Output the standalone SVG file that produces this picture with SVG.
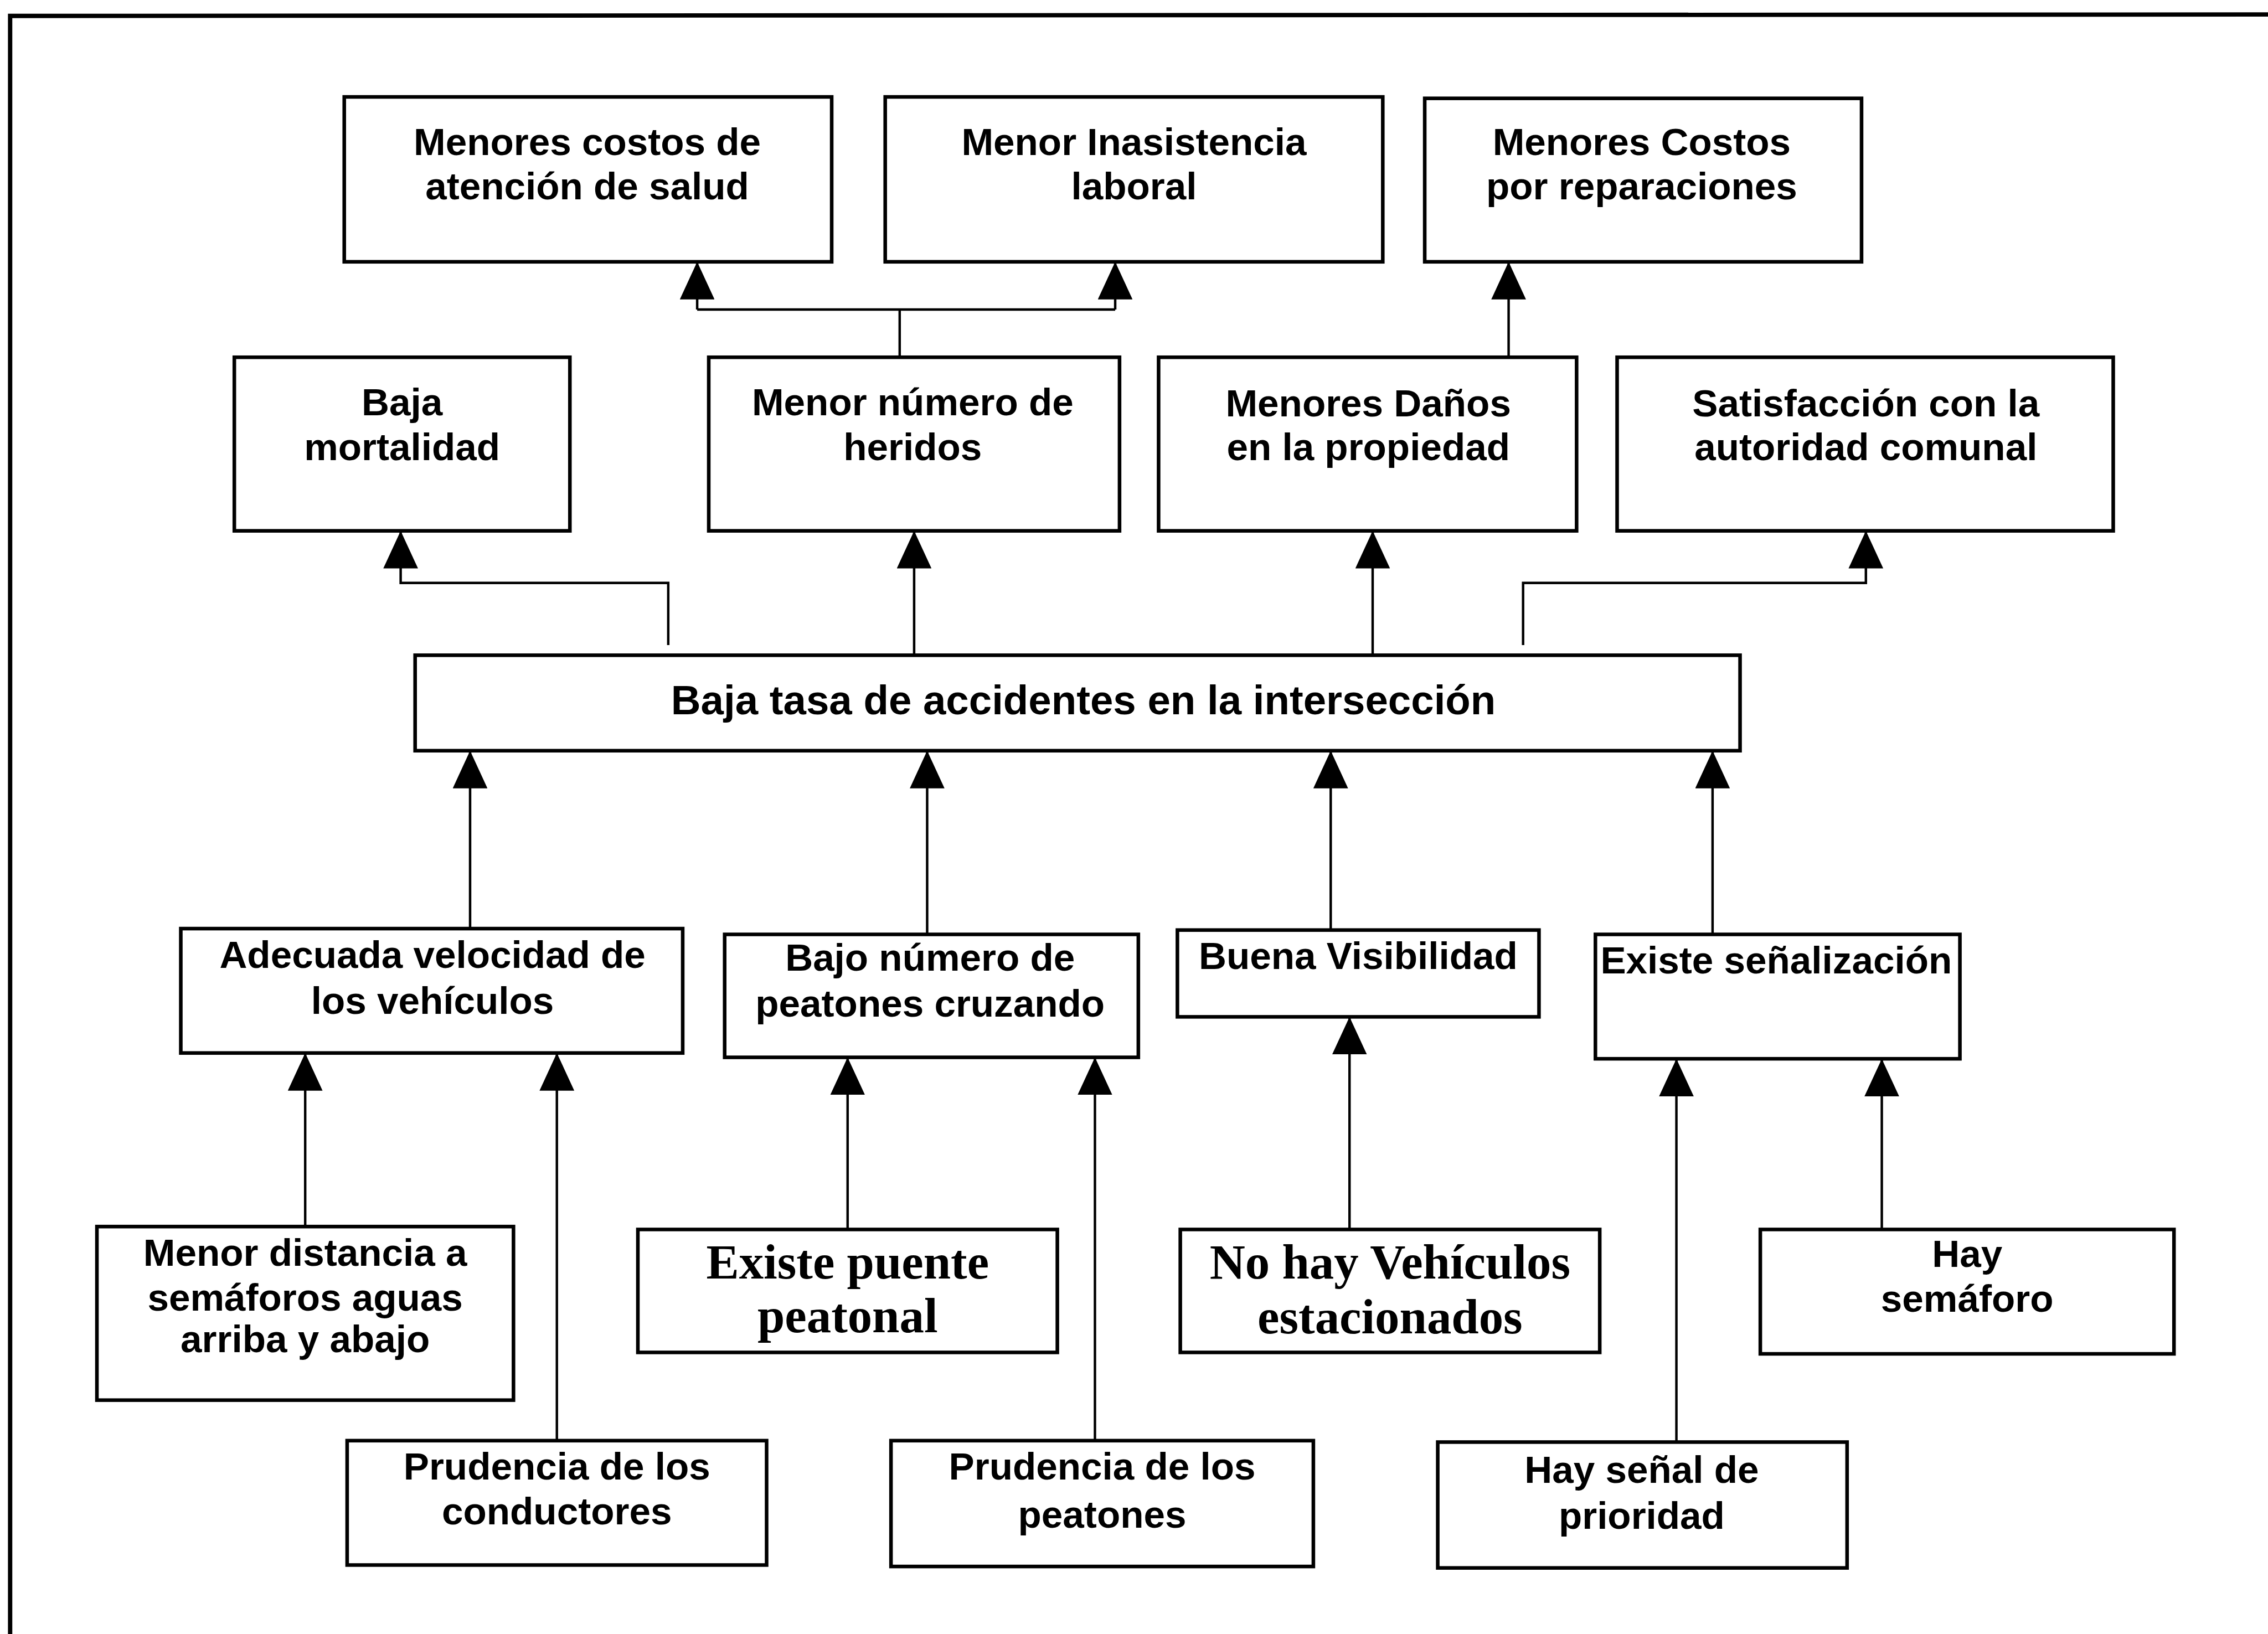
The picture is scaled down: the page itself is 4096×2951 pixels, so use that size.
<svg xmlns="http://www.w3.org/2000/svg" width="4096" height="2951" viewBox="0 0 4096 2951">
<defs>
<style>
.box{fill:#fff;stroke:#000;stroke-width:2.5}
.t{font-family:"Liberation Sans",Arial,sans-serif;font-weight:bold;font-size:26.5px;text-anchor:middle;fill:#000}
.s{font-family:"Liberation Serif","Times New Roman",serif;font-weight:bold;font-size:34px;text-anchor:middle;fill:#000}
.c{fill:none;stroke:#000;stroke-width:1.7}
.frame{fill:none;stroke:#000;stroke-width:3}
</style>
<marker id="ah" markerUnits="userSpaceOnUse" viewBox="0 0 26 24" refX="26" refY="12" markerWidth="26" markerHeight="24" orient="auto">
<path d="M0,0 L26,12 L0,24 Z" fill="#000"/>
</marker>
</defs>
<rect width="4096" height="2951" fill="#fff"/>
<g transform="scale(2.612245)">
<path class="frame" d="M7,1130 L7,11 L1568,10"/>

<g id="connectors">
<path class="c" d="M622,247 L622,214 M482,214 L771,214"/>
<path class="c" d="M482,214 L482,181" marker-end="url(#ah)"/>
<path class="c" d="M771,214 L771,181" marker-end="url(#ah)"/>
<path class="c" d="M1043,247 L1043,181" marker-end="url(#ah)"/>
<path class="c" d="M462,446 L462,403 L277,403 L277,367" marker-end="url(#ah)"/>
<path class="c" d="M632,453 L632,367" marker-end="url(#ah)"/>
<path class="c" d="M949,453 L949,367" marker-end="url(#ah)"/>
<path class="c" d="M1053,446 L1053,403 L1290,403 L1290,367" marker-end="url(#ah)"/>
<path class="c" d="M325,642 L325,519" marker-end="url(#ah)"/>
<path class="c" d="M641,646 L641,519" marker-end="url(#ah)"/>
<path class="c" d="M920,643 L920,519" marker-end="url(#ah)"/>
<path class="c" d="M1184,646 L1184,519" marker-end="url(#ah)"/>
<path class="c" d="M211,848 L211,728" marker-end="url(#ah)"/>
<path class="c" d="M385,996 L385,728" marker-end="url(#ah)"/>
<path class="c" d="M586,850 L586,731" marker-end="url(#ah)"/>
<path class="c" d="M757,996 L757,731" marker-end="url(#ah)"/>
<path class="c" d="M933,850 L933,703" marker-end="url(#ah)"/>
<path class="c" d="M1159,997 L1159,732" marker-end="url(#ah)"/>
<path class="c" d="M1301,850 L1301,732" marker-end="url(#ah)"/>
</g>

<g id="a1"><rect class="box" x="238" y="67" width="337" height="114"/><text class="t" x="406" y="107">Menores costos de</text><text class="t" x="406" y="138">atención de salud</text></g>
<g id="a2"><rect class="box" x="612" y="67" width="344" height="114"/><text class="t" x="784" y="107">Menor Inasistencia</text><text class="t" x="784" y="138">laboral</text></g>
<g id="a3"><rect class="box" x="985" y="68" width="302" height="113"/><text class="t" x="1135" y="107">Menores Costos</text><text class="t" x="1135" y="138">por reparaciones</text></g>

<g id="b1"><rect class="box" x="162" y="247" width="232" height="120"/><text class="t" x="278" y="287">Baja</text><text class="t" x="278" y="318">mortalidad</text></g>
<g id="b2"><rect class="box" x="490" y="247" width="284" height="120"/><text class="t" x="631" y="287">Menor número de</text><text class="t" x="631" y="318">heridos</text></g>
<g id="b3"><rect class="box" x="801" y="247" width="289" height="120"/><text class="t" x="946" y="288">Menores Daños</text><text class="t" x="946" y="318">en la propiedad</text></g>
<g id="b4"><rect class="box" x="1118" y="247" width="343" height="120"/><text class="t" x="1290" y="288">Satisfacción con la</text><text class="t" x="1290" y="318">autoridad comunal</text></g>

<g id="central"><rect class="box" x="287" y="453" width="916" height="66"/><text class="t" x="749" y="494" style="font-size:28.5px">Baja tasa de accidentes en la intersección</text></g>

<g id="c1"><rect class="box" x="125" y="642" width="347" height="86"/><text class="t" x="299" y="669">Adecuada velocidad de</text><text class="t" x="299" y="701">los vehículos</text></g>
<g id="c2"><rect class="box" x="501" y="646" width="286" height="85"/><text class="t" x="643" y="671">Bajo número de</text><text class="t" x="643" y="703">peatones cruzando</text></g>
<g id="c3"><rect class="box" x="814" y="643" width="250" height="60"/><text class="t" x="939" y="670">Buena Visibilidad</text></g>
<g id="c4"><rect class="box" x="1103" y="646" width="252" height="86"/><text class="t" x="1228" y="673">Existe señalización</text></g>

<g id="d1"><rect class="box" x="67" y="848" width="288" height="120"/><text class="t" x="211" y="875">Menor distancia a</text><text class="t" x="211" y="906">semáforos aguas</text><text class="t" x="211" y="935">arriba y abajo</text></g>
<g id="d2"><rect class="box" x="441" y="850" width="290" height="85"/><text class="s" x="586" y="884">Existe puente</text><text class="s" x="586" y="921">peatonal</text></g>
<g id="d3"><rect class="box" x="816" y="850" width="290" height="85"/><text class="s" x="961" y="884">No hay Vehículos</text><text class="s" x="961" y="922">estacionados</text></g>
<g id="d4"><rect class="box" x="1217" y="850" width="286" height="86"/><text class="t" x="1360" y="876">Hay</text><text class="t" x="1360" y="907">semáforo</text></g>

<g id="e1"><rect class="box" x="240" y="996" width="290" height="86"/><text class="t" x="385" y="1023">Prudencia de los</text><text class="t" x="385" y="1054">conductores</text></g>
<g id="e2"><rect class="box" x="616" y="996" width="292" height="87"/><text class="t" x="762" y="1023">Prudencia de los</text><text class="t" x="762" y="1056">peatones</text></g>
<g id="e3"><rect class="box" x="994" y="997" width="283" height="87"/><text class="t" x="1135" y="1025">Hay señal de</text><text class="t" x="1135" y="1057">prioridad</text></g>
</g>
</svg>
